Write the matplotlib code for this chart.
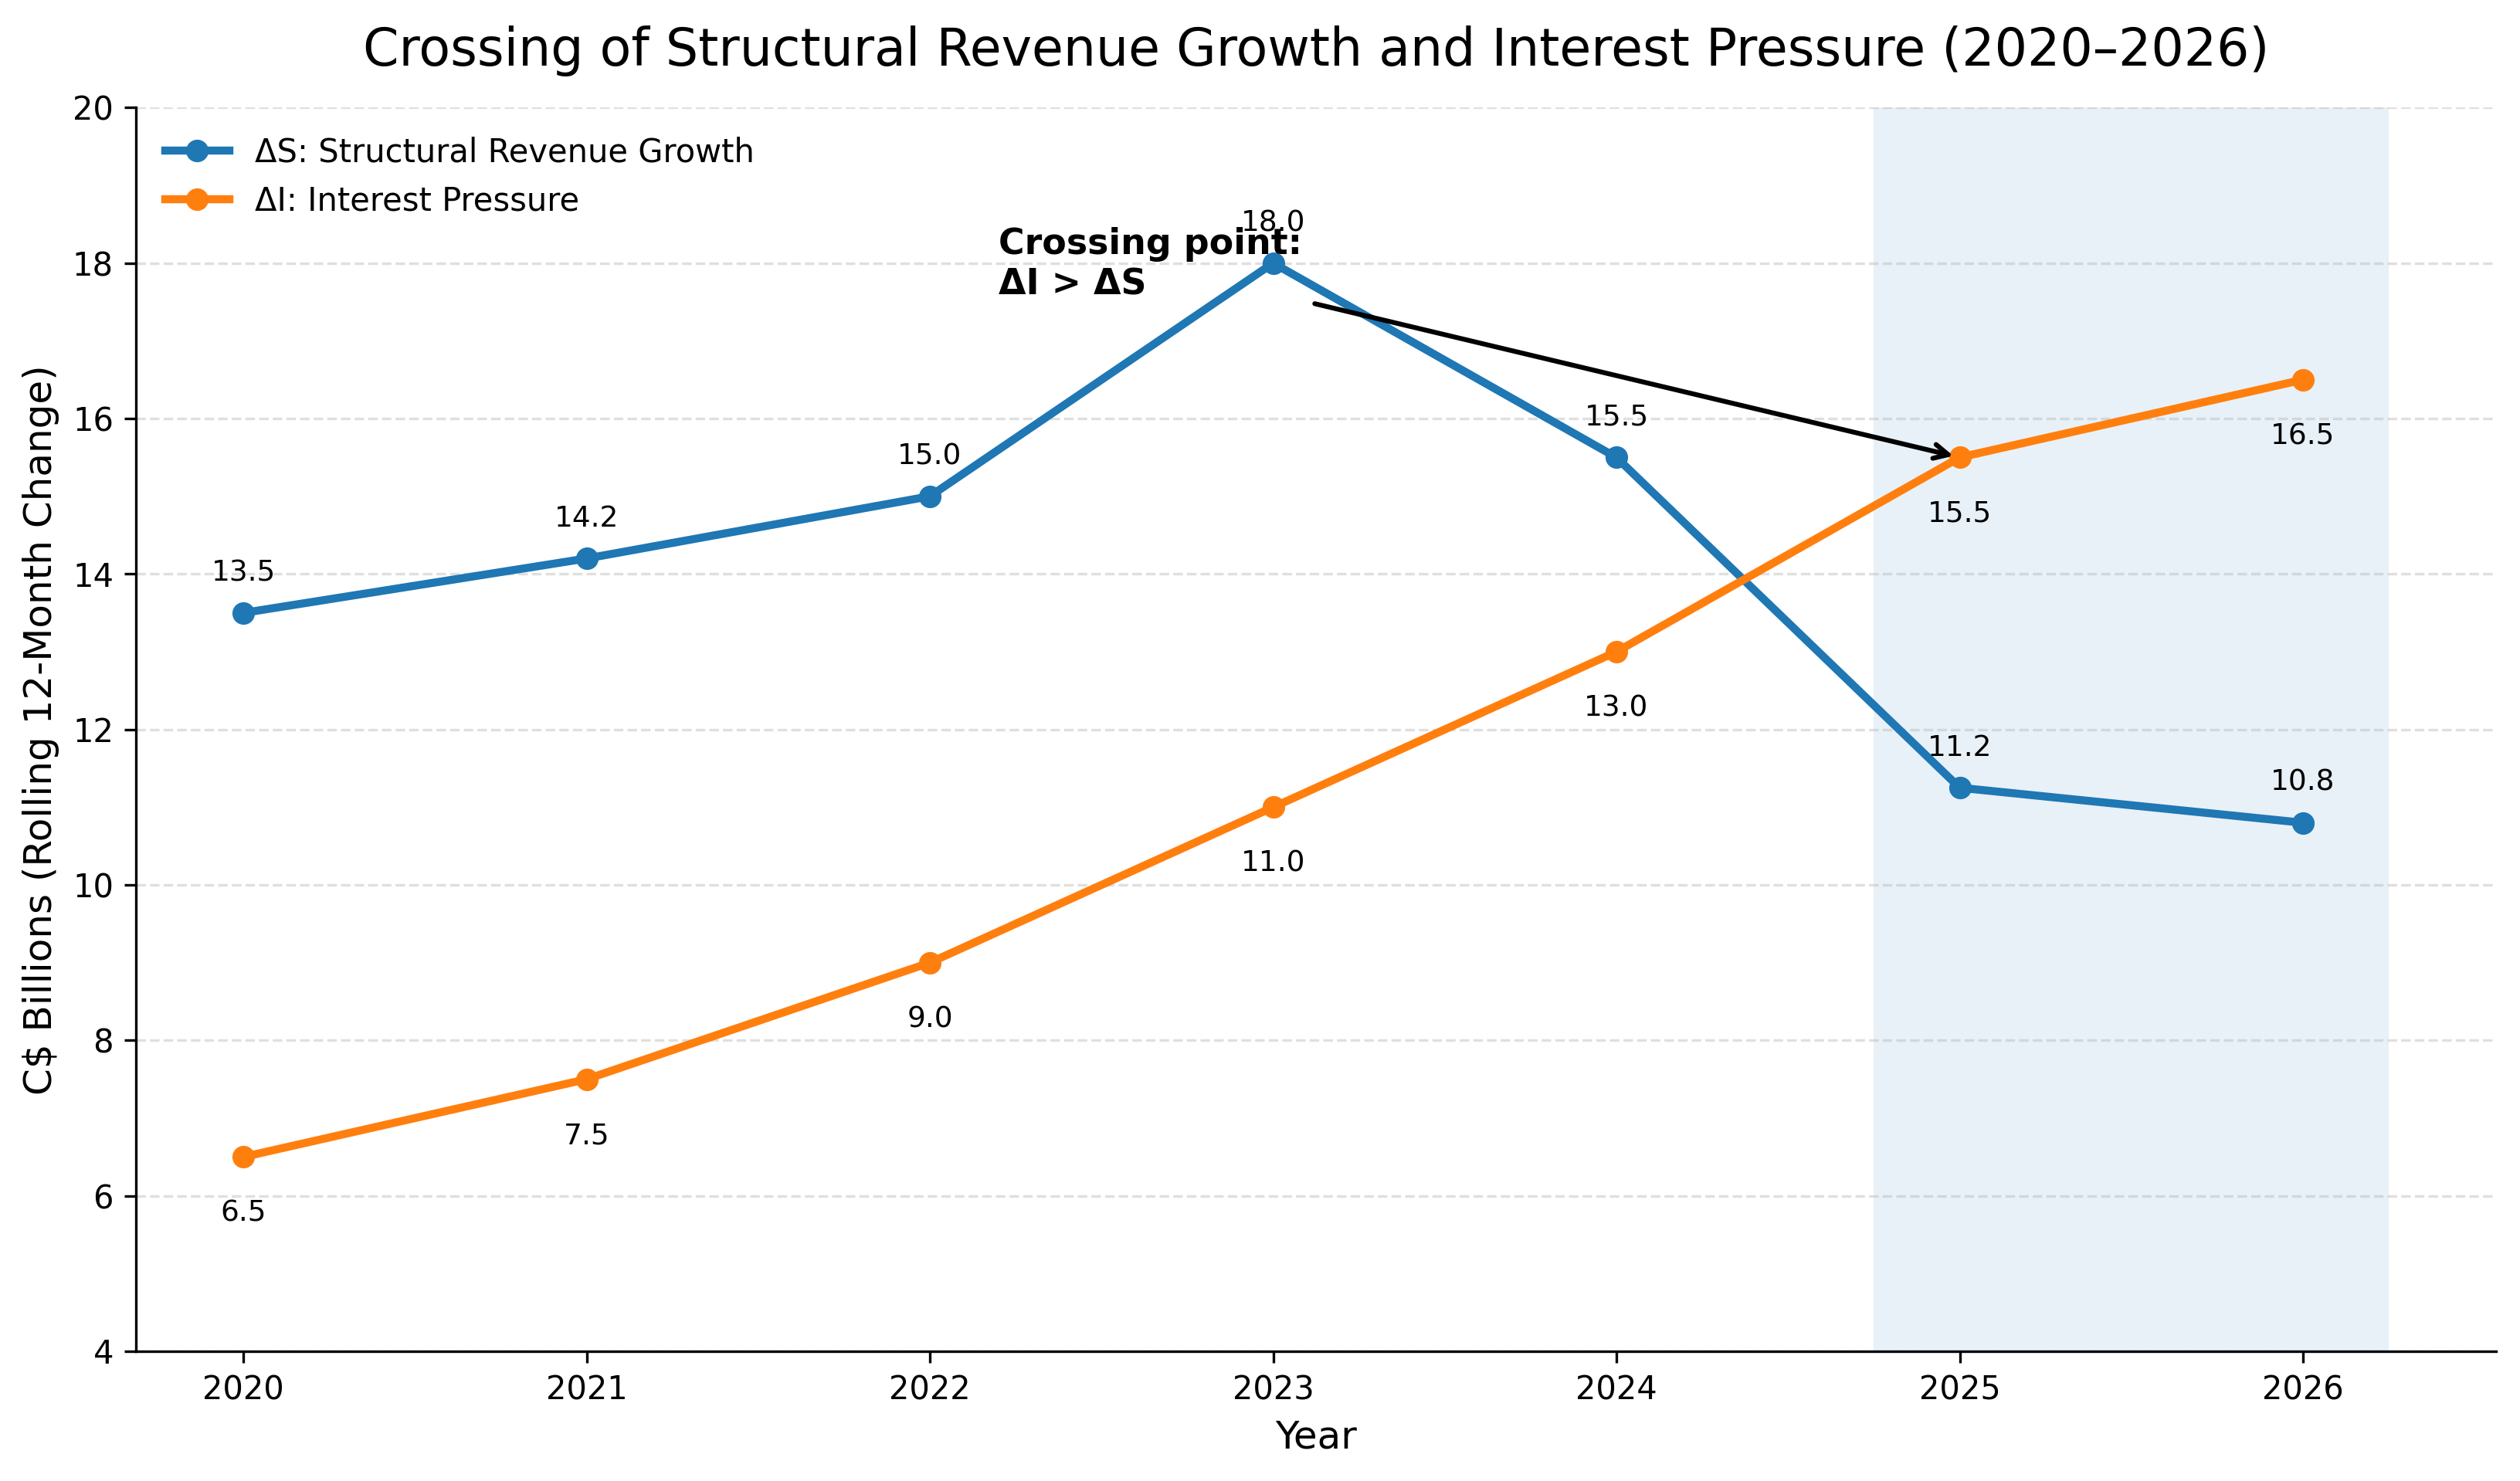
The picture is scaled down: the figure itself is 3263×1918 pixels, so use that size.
import matplotlib
matplotlib.use("Agg")
import matplotlib.pyplot as plt

# data
years = [2020, 2021, 2022, 2023, 2024, 2025, 2026]
delta_s = [13.5, 14.2, 15.0, 18.0, 15.5, 11.25, 10.8]
delta_i = [6.5, 7.5, 9.0, 11.0, 13.0, 15.5, 16.5]
shade_span = (2024.75, 2026.25)

fig, ax = plt.subplots(figsize=(3263 / 300, 1918 / 300), dpi=300)
fig.subplots_adjust(left=0.054, right=0.9905, top=0.9273, bottom=0.0876)

ax.axvspan(shade_span[0], shade_span[1], color="tab:blue", alpha=0.1, lw=0)

ax.plot(years, delta_s, marker="o", lw=2.5, color="tab:blue",
        label="ΔS: Structural Revenue Growth")
ax.plot(years, delta_i, marker="o", lw=2.5, color="tab:orange",
        label="ΔI: Interest Pressure")

for x, v in zip(years, delta_s):
    ax.annotate(f"{v:.1f}", (x, v), textcoords="offset points", xytext=(0, 10),
                ha="center", fontsize=9)
for x, v in zip(years, delta_i):
    ax.annotate(f"{v:.1f}", (x, v), textcoords="offset points", xytext=(0, -20),
                ha="center", fontsize=9)

ax.annotate("Crossing point:\nΔI > ΔS", xy=(2025, 15.5), xytext=(2022.2, 17.6),
            fontsize=11, fontweight="bold",
            arrowprops=dict(arrowstyle="->", lw=1.5, color="black"))

ax.set_ylim(4, 20)
ax.set_xticks(years)
ax.set_title("Crossing of Structural Revenue Growth and Interest Pressure (2020–2026)",
             fontsize=16, pad=13)
ax.set_xlabel("Year", fontsize=12)
ax.set_ylabel("C$ Billions (Rolling 12-Month Change)", fontsize=12)
ax.grid(axis="y", linestyle="--", alpha=0.4)
ax.spines["top"].set_visible(False)
ax.spines["right"].set_visible(False)
ax.legend(loc="upper left", frameon=False, fontsize=10)

fig.savefig("out.png", dpi=300)
